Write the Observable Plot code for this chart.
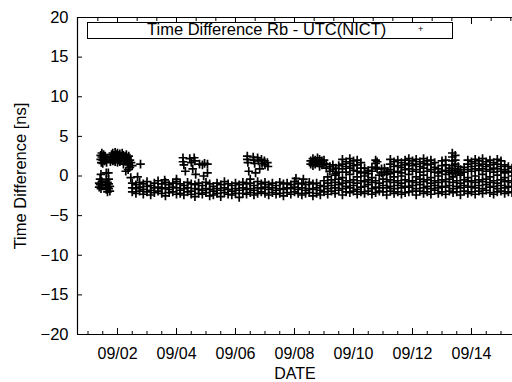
<!DOCTYPE html>
<html><head><meta charset="utf-8">
<script src="https://cdn.jsdelivr.net/npm/d3@7"></script>
<script src="https://cdn.jsdelivr.net/npm/@observablehq/plot@0.6"></script>
<style>
body{margin:0;background:#fff;}
#wrap{position:relative;width:512px;height:382px;font-family:"Liberation Sans",Arial,sans-serif;color:#000;}
#legend{position:absolute;left:87px;top:22px;width:364px;height:15px;border:1px solid #000;box-sizing:content-box;background:#fff;}
#legend .t{position:absolute;left:59px;top:-3px;font-size:16.5px;white-space:nowrap;}
#legend .m{position:absolute;left:330px;top:1px;font-size:9px;}
</style></head><body><div id="wrap"></div>
<script>
// axis ticks / labels
const dateTicks = [2, 4, 6, 8, 10, 12, 14];               // day of September
const dateLabels = ["09/02", "09/04", "09/06", "09/08", "09/10", "09/12", "09/14"];
const valueTicks = [-20, -15, -10, -5, 0, 5, 10, 15, 20];
const xDomain = [0.644, 15.39];                            // visible span (days of September)
const seriesName = "Time Difference Rb - UTC(NICT)";

// early clusters (day, ns)
const earlyUpper = [
  [1.43,2.6],[1.43,2.1],[1.45,1.7],[1.47,2.9],[1.47,2.4],[1.50,2.0],[1.50,1.6],[1.53,2.7],[1.53,2.3],
  [1.56,1.9],[1.58,2.5],[1.60,2.1],[1.63,1.7],
  [1.76,2.3],[1.76,1.8],[1.80,2.7],[1.80,2.1],[1.84,2.9],[1.84,2.4],[1.84,1.9],[1.88,2.6],[1.88,2.0],
  [1.92,3.0],[1.92,2.4],[1.92,1.8],[1.96,2.7],[1.96,2.2],[2.00,2.9],[2.00,2.3],[2.00,1.7],[2.04,2.6],
  [2.04,2.0],[2.08,2.8],[2.08,2.3],[2.08,1.8],[2.12,2.5],[2.12,2.0],[2.16,2.9],[2.16,2.3],[2.20,2.6],
  [2.20,2.0],[2.20,1.5],[2.25,2.4],[2.25,1.9],[2.30,2.7],[2.30,2.1],[2.34,2.3],[2.34,1.7],[2.38,2.5],
  [2.38,1.4],[2.42,2.0],[2.42,1.1],[2.46,1.7],[2.50,1.3],[2.36,0.8],[2.28,0.6]
];
const earlyLower = [
  [1.38,-0.9],[1.38,-1.4],[1.41,-0.4],[1.41,-1.1],[1.44,0.2],[1.44,-1.6],[1.47,-0.7],[1.47,-1.2],
  [1.62,0.4],[1.69,0.4],[1.62,-0.5],[1.62,-1.1],[1.62,-1.7],[1.66,-0.8],[1.66,-1.4],[1.66,-2.0],
  [1.70,-0.4],[1.70,-1.0],[1.70,-1.6],[1.74,-1.3],[1.74,-1.9]
];
// scattered excursions (day, ns)
const excursions = [
  [2.78,1.5],[2.45,-0.2],[2.68,-0.1],[8.05,-0.3],[8.30,-0.4],[3.60,-0.5],[4.00,-0.4],
  [4.22,2.3],[4.22,1.8],[4.25,1.4],[4.30,0.6],[4.45,2.2],[4.50,1.7],[4.55,0.9],[4.60,2.3],[4.62,1.9],
  [4.65,0.2],[4.78,1.5],[4.88,1.4],[4.95,1.6],[4.92,0.0],[5.05,0.4],[5.05,1.5],
  [6.40,2.5],[6.40,2.1],[6.42,1.7],[6.45,0.6],[6.60,2.4],[6.62,2.0],[6.65,1.6],[6.68,0.4],[6.75,2.3],
  [6.78,1.9],[6.82,0.9],[6.88,2.1],[6.90,1.6],[6.98,1.9],[7.00,1.4],[7.08,1.7],[7.10,1.2],[6.50,-0.4]
];
// main (lower) band: [day, values...]
const lowerBand = [
  [2.5,-0.9,-1.5,-2.0],[2.625,-1.1,-1.6,-2.2],[2.75,-0.8,-1.4,-1.9],[2.875,-1.0,-1.7,-2.3],
  [3.0,-0.7,-1.3,-2.0],[3.125,-1.2,-1.8,-2.4],[3.25,-0.9,-1.5,-2.1],[3.375,-0.6,-1.4,-1.9],
  [3.5,-1.0,-1.6,-2.2],[3.625,-0.8,-1.5,-2.5],[3.75,-1.1,-1.7,-2.1],[3.875,-0.9,-1.4,-2.0],
  [4.0,-0.7,-1.5,-2.3],[4.125,-1.0,-1.8,-2.2],[4.25,-1.2,-1.6,-2.4],[4.375,-0.8,-1.5,-2.0],
  [4.5,-1.0,-1.9,-2.3],[4.625,-1.1,-1.6,-2.6],[4.75,-0.9,-1.7,-2.2],[4.875,-1.2,-1.8,-2.3],
  [5.0,-0.8,-1.6,-2.1],[5.125,-1.0,-1.7,-2.5],[5.25,-1.3,-1.9,-2.4],[5.375,-0.9,-1.6,-2.2],
  [5.5,-1.1,-1.8,-2.6],[5.625,-0.7,-1.5,-2.1],[5.75,-1.0,-1.7,-2.3],[5.875,-1.2,-1.9,-2.4],
  [6.0,-0.9,-1.6,-2.2],[6.125,-1.1,-1.8,-2.7],[6.25,-0.8,-1.5,-2.2],[6.375,-1.0,-1.7,-2.3],
  [6.5,-0.9,-1.6,-2.1],[6.625,-1.2,-1.8,-2.4],[6.75,-0.7,-1.5,-2.2],[6.875,-1.0,-1.6,-2.0],
  [7.0,-0.8,-1.4,-2.2],[7.125,-1.1,-1.7,-2.4],[7.25,-0.9,-1.5,-2.1],[7.375,-1.2,-1.8,-2.3],
  [7.5,-0.8,-1.6,-2.2],[7.625,-1.0,-1.7,-2.5],[7.75,-0.9,-1.5,-2.1],[7.875,-1.1,-1.6,-2.3],
  [8.0,-0.7,-1.4,-2.0],[8.125,-1.0,-1.7,-2.2],[8.25,-0.9,-1.5,-2.4],[8.375,-1.1,-1.8,-2.2],
  [8.5,-0.8,-1.6,-2.1],[8.625,-1.0,-1.7,-2.5],[8.75,-0.9,-1.5,-2.2],[8.875,-1.2,-1.8,-2.4],
  [9.0,-0.6,-1.3,-2.0],[9.125,-0.9,-1.6,-2.3,-0.1],[9.25,-0.5,-1.2,-1.9],[9.375,-0.8,-1.5,-2.2,0.1],
  [9.5,-0.4,-1.1,-1.8],[9.625,-0.9,-1.6,-2.4,-0.2],[9.75,-0.6,-1.3,-2.0],[9.875,-0.8,-1.5,-2.1,0.2],
  [10.0,-0.5,-1.2,-1.9],[10.125,-0.9,-1.7,-2.3,-0.1],[10.25,-0.6,-1.4,-2.0],[10.375,-0.7,-1.3,-2.2,0.0],
  [10.5,-0.5,-1.1,-1.9],[10.625,-0.8,-1.6,-2.3,-0.2],[10.75,-0.6,-1.4,-2.1],[10.875,-0.9,-1.5,-1.9,0.1],
  [11.0,-0.4,-1.2,-2.0],[11.125,-0.7,-1.5,-2.4,0.2],[11.25,-0.5,-1.3,-1.9],[11.375,-0.8,-1.6,-2.2,-0.1],
  [11.5,-0.6,-1.2,-2.0],[11.625,-0.9,-1.5,-2.3,0.0],[11.75,-0.5,-1.3,-2.1],[11.875,-0.7,-1.4,-2.0,0.2],
  [12.0,-0.6,-1.2,-1.9],[12.125,-0.8,-1.6,-2.4,-0.1],[12.25,-0.4,-1.1,-1.9],[12.375,-0.7,-1.5,-2.2,0.1],
  [12.5,-0.5,-1.3,-2.0],[12.625,-0.9,-1.6,-2.3,-0.2],[12.75,-0.6,-1.2,-1.8],[12.875,-0.8,-1.5,-2.2,0.0],
  [13.0,-0.5,-1.3,-2.0],[13.125,-0.7,-1.4,-2.3,0.2],[13.25,-0.4,-1.2,-1.9],[13.375,-0.8,-1.6,-2.1,-0.1],
  [13.5,-0.6,-1.3,-2.0],[13.625,-0.9,-1.5,-2.4,0.1],[13.75,-0.5,-1.2,-1.9],[13.875,-0.7,-1.4,-2.2,-0.2],
  [14.0,-0.6,-1.3,-2.0],[14.125,-0.8,-1.5,-2.3,0.0],[14.25,-0.5,-1.2,-1.9],[14.375,-0.7,-1.6,-2.2,0.2],
  [14.5,-0.4,-1.1,-1.8],[14.625,-0.8,-1.4,-2.1,-0.1],[14.75,-0.6,-1.3,-2.3],[14.875,-0.9,-1.6,-2.0,0.1],
  [15.0,-0.5,-1.2,-1.9],[15.125,-0.7,-1.5,-2.2,-0.2],[15.25,-0.6,-1.3,-2.0],[15.375,-0.8,-1.4,-2.1,0.0]
];
// upper mode after 09/08: [day, values...]
const upperBand = [
  [8.55,1.9,1.5],[8.625,2.2,1.7,1.3],[8.7,2.0,1.5],[8.78,2.3,1.8],[8.85,2.1,1.6,1.2],[8.93,1.9,1.4],
  [9.0,2.0,1.6],[9.08,1.5,1.0],
  [9.2,1.2,0.6],[9.3,1.4,0.8],[9.4,1.0,0.3],[9.5,1.3,0.5],
  [9.625,2.1,1.5,0.9],[9.75,1.8,1.2,0.5],[9.875,2.2,1.6,1.0],[10.0,1.9,1.3,0.7],[10.125,2.0,1.4,0.6],[10.25,1.7,1.0,0.4],
  [10.375,1.0,0.5],[10.5,0.7,0.3],[10.625,1.1,0.6],
  [10.75,2.0,1.6,1.1],[10.8,1.8,0.9],
  [10.95,0.9,0.4],[11.05,1.0,0.5],[11.15,0.6],
  [11.25,2.1,1.5,0.8,0.3],[11.375,1.8,1.2,0.5],[11.5,2.0,1.3,0.6],[11.625,1.7,1.1,0.4],[11.75,2.0,1.4,0.8],
  [11.875,2.2,1.6,0.9],[12.0,1.9,1.3,0.6],[12.125,2.1,1.5,0.8],[12.25,1.8,1.2,0.5],[12.375,2.2,1.6,1.0],
  [12.5,1.9,1.4,0.6],[12.625,2.0,1.5,0.8],[12.75,1.7,1.1,0.5],
  [12.875,0.9,0.4],[13.0,1.9,1.3,0.6],[13.125,2.0,1.4,0.7],[13.25,1.0,0.5],
  [13.35,2.9,2.4,1.9,1.3,0.7,0.3],[13.45,2.6,2.0,1.5,0.9,0.4],
  [13.55,1.2,0.6],[13.625,0.8,0.3],[13.75,1.1,0.5],
  [13.875,2.0,1.5,0.8],[14.0,1.8,1.2,0.6],[14.125,2.1,1.6,0.9],[14.25,1.9,1.3,0.7],[14.375,2.2,1.5,0.9],
  [14.5,1.8,1.2,0.6],[14.625,2.0,1.4,0.8],[14.75,1.7,1.0,0.5],[14.875,2.1,1.5,0.9],[15.0,1.9,1.2,0.6],
  [15.125,1.4,0.8,0.4],[15.25,1.2,0.6],[15.375,1.0,0.5]
];

const points = [
  ...earlyUpper.map(([d, v]) => ({d, v})),
  ...earlyLower.map(([d, v]) => ({d, v})),
  ...excursions.map(([d, v]) => ({d, v})),
  ...lowerBand.flatMap(([d, ...vs]) => vs.map(v => ({d, v}))),
  ...upperBand.flatMap(([d, ...vs]) => vs.map(v => ({d, v})))
];

const minorBottom = d3.range(1, 15.5, 0.5);
const minorTop = d3.range(2 - 2/3, 15.5, 2/3);
const font = '"Liberation Sans", Arial, sans-serif';

const chart = Plot.plot({
  width: 512, height: 382,
  marginLeft: 77, marginRight: 0, marginTop: 17, marginBottom: 48,
  style: {fontFamily: font, fontSize: "16px", color: "#000", background: "#fff", overflow: "visible"},
  x: {domain: xDomain},
  y: {domain: [-20, 20]},
  marks: [
    Plot.dot(points, {x: "d", y: "v", symbol: "plus", r: 2.9, stroke: "#000", strokeWidth: 1.7}),
    Plot.ruleY([-20, 20], {stroke: "#000", strokeWidth: 1.2}),
    Plot.ruleX([xDomain[0]], {stroke: "#000", strokeWidth: 1.2}),
    Plot.axisY({ticks: valueTicks, tickSize: -5, tickPadding: 14, label: "Time Difference [ns]",
      labelAnchor: "center", labelOffset: 63, labelArrow: "none", fontSize: 16.5}),
    Plot.axisX({ticks: minorBottom, tickSize: -3, tickFormat: () => "", label: null}),
    Plot.axisX({ticks: dateTicks, tickSize: -6, tickPadding: 19,
      tickFormat: d => dateLabels[dateTicks.indexOf(d)], label: "DATE", labelAnchor: "center",
      labelOffset: 44, labelArrow: "none", fontSize: 16}),
    Plot.axisX({anchor: "top", ticks: minorTop, tickSize: -3, tickFormat: () => "", label: null}),
    Plot.axisX({anchor: "top", ticks: dateTicks, tickSize: -6, tickFormat: () => "", label: null})
  ]
});
const wrap = document.getElementById("wrap");
wrap.appendChild(chart);
const lg = document.createElement("div");
lg.id = "legend";
lg.innerHTML = `<span class="t">${seriesName}</span><span class="m">+</span>`;
wrap.appendChild(lg);
</script></body></html>
